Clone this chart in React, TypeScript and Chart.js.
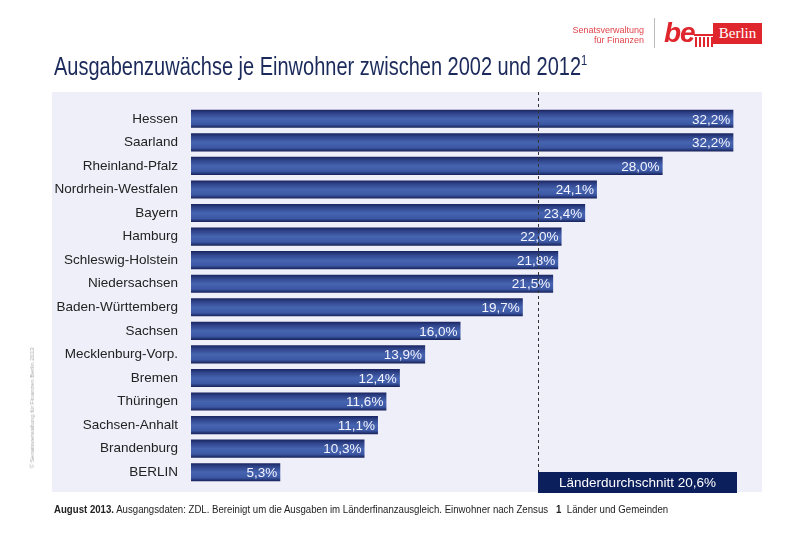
import React, { useEffect, useRef } from "react";
import { Chart, registerables } from "chart.js";

Chart.register(...registerables);

const states = [
  "Hessen",
  "Saarland",
  "Rheinland-Pfalz",
  "Nordrhein-Westfalen",
  "Bayern",
  "Hamburg",
  "Schleswig-Holstein",
  "Niedersachsen",
  "Baden-Württemberg",
  "Sachsen",
  "Mecklenburg-Vorp.",
  "Bremen",
  "Thüringen",
  "Sachsen-Anhalt",
  "Brandenburg",
  "BERLIN",
];
const growth = [32.2, 32.2, 28.0, 24.1, 23.4, 22.0, 21.8, 21.5, 19.7, 16.0, 13.9, 12.4, 11.6, 11.1, 10.3, 5.3];
const averageValue = 20.6;
const averageLabel = "Länderdurchschnitt";
const xMax = 33.9;

const fmt = (v: number) => v.toFixed(1).replace(".", ",") + "%";

const FONT = "'Liberation Sans', Arial, sans-serif";

const decorPlugin = {
  id: "decor",
  beforeDraw(chart: any) {
    const { ctx } = chart;
    ctx.save();
    ctx.fillStyle = "#efeffa";
    ctx.fillRect(52, 92, 710, 400);
    ctx.restore();
  },
  afterDatasetsDraw(chart: any) {
    const { ctx, scales } = chart;
    const meta = chart.getDatasetMeta(0);
    ctx.save();
    ctx.font = "13.5px " + FONT;
    ctx.fillStyle = "#f4f4ff";
    ctx.textAlign = "right";
    ctx.textBaseline = "middle";
    meta.data.forEach((bar: any, i: number) => {
      ctx.fillText(fmt(growth[i]), bar.x - 3, bar.y + 1);
    });
    const ax = Math.round(scales.x.getPixelForValue(averageValue)) + 0.5;
    const boxTop = 472;
    ctx.strokeStyle = "#333333";
    ctx.lineWidth = 1;
    ctx.setLineDash([3, 3]);
    ctx.beginPath();
    ctx.moveTo(ax, 92);
    ctx.lineTo(ax, boxTop);
    ctx.stroke();
    ctx.setLineDash([]);
    const bx = ax - 0.5;
    const bw = 199;
    ctx.fillStyle = "#0b1f5c";
    ctx.fillRect(bx, boxTop, bw, 21);
    ctx.fillStyle = "#ffffff";
    ctx.textAlign = "center";
    ctx.font = "13.5px " + FONT;
    ctx.fillText(averageLabel + " " + fmt(averageValue), bx + bw / 2, boxTop + 11);
    ctx.restore();
  },
};

export default function App() {
  const ref = useRef<HTMLCanvasElement | null>(null);

  useEffect(() => {
    if (!ref.current) return;
    const chart = new Chart(ref.current, {
      type: "bar",
      data: {
        labels: states,
        datasets: [
          {
            data: growth,
            backgroundColor: (c: any) => {
              const ch = c.chart;
              if (!ch.scales || !ch.scales.y || c.dataIndex === undefined) return "#3a55a0";
              const y = ch.scales.y.getPixelForValue(c.dataIndex);
              if (!Number.isFinite(y)) return "#3a55a0";
              const g = ch.ctx.createLinearGradient(0, y - 9, 0, y + 9);
              g.addColorStop(0, "#1a2560");
              g.addColorStop(0.18, "#2e4288");
              g.addColorStop(0.5, "#4664b0");
              g.addColorStop(0.8, "#3c58a4");
              g.addColorStop(1, "#172259");
              return g;
            },
            borderWidth: 0,
            barPercentage: 0.77,
            categoryPercentage: 1,
          },
        ],
      },
      options: {
        indexAxis: "y",
        responsive: false,
        animation: false,
        events: [],
        layout: { padding: { left: 30, right: 38, top: 107, bottom: 74 } },
        plugins: { legend: { display: false }, tooltip: { enabled: false } },
        scales: {
          x: { display: false, min: 0, max: xMax },
          y: {
            grid: { display: false, drawTicks: false },
            border: { display: false },
            ticks: { padding: 13, color: "#222222", font: { size: 13.5, family: FONT } },
            afterFit: (s: any) => {
              s.width = 161;
            },
          },
        },
      },
      plugins: [decorPlugin],
    });
    return () => chart.destroy();
  }, []);

  return (
    <div style={{ position: "fixed", left: 0, top: 0, width: 800, height: 558, background: "#fff", overflow: "hidden", fontFamily: FONT }}>
      <canvas ref={ref} width={800} height={558} style={{ position: "absolute", left: 0, top: 0 }} />
      <div style={{ position: "absolute", right: 156, top: 25, textAlign: "right", color: "#e0464b", fontSize: 9, lineHeight: "10px" }}>
        Senatsverwaltung
        <br />
        für Finanzen
      </div>
      <div style={{ position: "absolute", left: 654, top: 18, width: 1, height: 30, background: "#bbbbbb" }} />
      <div style={{ position: "absolute", left: 664, top: 17, color: "#e0262d", fontSize: 28, fontWeight: "bold", fontStyle: "italic", letterSpacing: -1 }}>be</div>
      <div style={{ position: "absolute", left: 694, top: 34, width: 20, height: 13 }}>
        <div style={{ position: "absolute", left: 0, top: 0, width: 19, height: 2, background: "#e0262d" }} />
        {[1, 5, 9, 13, 17].map((x) => (
          <div key={x} style={{ position: "absolute", left: x, top: 3, width: 2, height: 10, background: "#e0262d" }} />
        ))}
      </div>
      <div style={{ position: "absolute", left: 713, top: 23, width: 49, height: 21, background: "#e0262d", color: "#fff", fontFamily: "'Liberation Serif', serif", fontSize: 15, lineHeight: "21px", textAlign: "center" }}>
        Berlin
      </div>
      <div style={{ position: "absolute", left: 54, top: 52, color: "#1b2a5a", fontSize: 25, whiteSpace: "nowrap", transform: "scaleX(0.8)", transformOrigin: "left top" }}>
        Ausgabenzuwächse je Einwohner zwischen 2002 und 2012
        <sup style={{ fontSize: 14, verticalAlign: "top", position: "relative", top: 0 }}>1</sup>
      </div>
      <div style={{ position: "absolute", left: 54, top: 504, color: "#222", fontSize: 10, whiteSpace: "nowrap", transform: "scaleX(0.964)", transformOrigin: "left top" }}>
        <b>August 2013.</b> Ausgangsdaten: ZDL. Bereinigt um die Ausgaben im Länderfinanzausgleich. Einwohner nach Zensus&nbsp;&nbsp;&nbsp;<b>1</b>&nbsp; Länder und Gemeinden
      </div>
      <div style={{ position: "absolute", left: 32, top: 408, color: "#aaa", fontSize: 6, whiteSpace: "nowrap", transform: "translate(-50%, -50%) rotate(-90deg)" }}>
        © Senatsverwaltung für Finanzen Berlin 2013
      </div>
    </div>
  );
}
